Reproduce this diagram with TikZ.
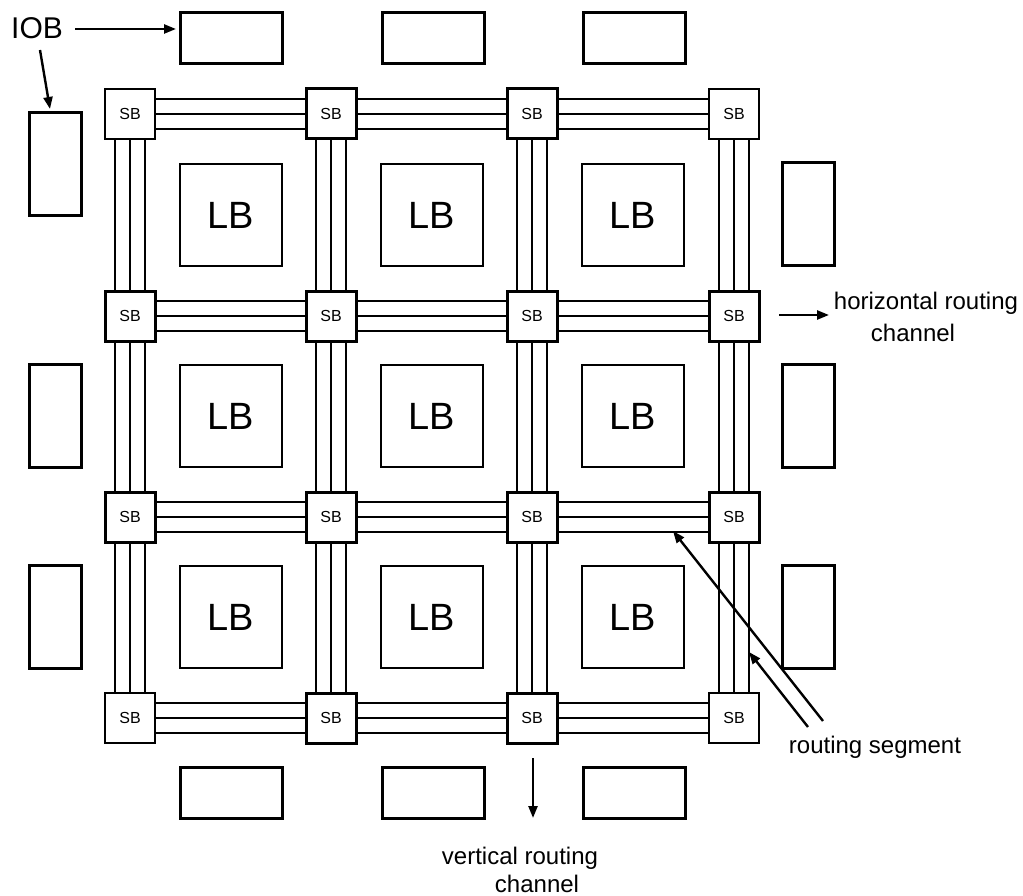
\documentclass[tikz,border=0pt]{standalone}
\usepackage{fontspec}
\setmainfont{Liberation Sans}
\usetikzlibrary{arrows.meta}
\begin{document}
\begin{tikzpicture}[x=1pt,y=-1pt,
  sb/.style={draw, line width=3pt, minimum size=50pt, inner sep=0pt, fill=white, font=\fontsize{16}{16}\selectfont},
  sbc/.style={sb, line width=1.8pt},
  lb/.style={draw, line width=2.6pt, minimum size=102pt, inner sep=0pt, font=\fontsize{38}{38}\selectfont},
  iobh/.style={draw, line width=3pt, minimum width=102pt, minimum height=51pt, inner sep=0pt},
  iobv/.style={draw, line width=3pt, minimum width=52pt, minimum height=103pt, inner sep=0pt},
  track/.style={line width=1.5pt},
  arr/.style={line width=2.4pt, -{Triangle[length=12pt,width=9pt]}},
  lbl/.style={font=\fontsize{24}{29}\selectfont, align=center, inner sep=0pt}]
\useasboundingbox (0,0) rectangle (1023,896);

% switch boxes
\foreach \i/\x in {1/130,2/331,3/532,4/734}{
  \foreach \j/\y in {1/114,2/316,3/517,4/718}{
    \pgfmathtruncatemacro\c{and(or(\i==1,\i==4),or(\j==1,\j==4))}
    \ifnum\c=1
      \node[sbc] (sb-\i-\j) at (\x,\y) {SB};
    \else
      \node[sb] (sb-\i-\j) at (\x,\y) {SB};
    \fi
  }
}

% routing tracks
\foreach \j in {1,2,3,4}{
  \foreach \i/\k in {1/2,2/3,3/4}{
    \foreach \o in {-15,0,15}{
      \draw[track] ([yshift=\o pt]sb-\i-\j.east) -- ([yshift=\o pt]sb-\k-\j.west);
      \draw[track] ([xshift=\o pt]sb-\j-\i.south) -- ([xshift=\o pt]sb-\j-\k.north);
    }
  }
}

% logic blocks
\foreach \i/\x in {1/231,2/432,3/633}{
  \foreach \j/\y in {1/215,2/416,3/617}{
    \node[lb] (lb-\i-\j) at (\x,\y) {LB};
  }
}

% IO blocks
\foreach \i/\x in {1/231,2/433,3/634}{
  \node[iobh] (iobt-\i) at (\x,38.5) {};
  \node[iobh] (iobb-\i) at (\x,792.5) {};
}
\node[iobv] (iobl-1) at (55,164.5) {};
\node[iobv] (iobl-2) at (55,415.5) {};
\node[iobv] (iobl-3) at (55,617) {};
\node[iobv] (iobr-1) at (808.5,214.5) {};
\node[iobv] (iobr-2) at (808.5,415.5) {};
\node[iobv] (iobr-3) at (808.5,616.5) {};

% labels
\node[font=\fontsize{30}{30}\selectfont, anchor=base, inner sep=0pt] (iob) at (37,39) {IOB};
\coordinate (iobA) at (75,29);
\coordinate (iobAend) at (176,29);
\coordinate (iobB) at (40,50);
\coordinate (iobBend) at (50,109);
\draw[arr] (iobA) -- (iobAend);
\draw[arr] (iobB) -- (iobBend);

\coordinate (hA) at (779,315);
\coordinate (hB) at (829,315);
\draw[arr] (hA) -- (hB);
\node[lbl, anchor=base] (hl1) at (926,309) {horizontal routing};
\node[lbl, anchor=base] (hl2) at (913,341) {channel};

\coordinate (vA) at (533,758);
\coordinate (vB) at (533,818);
\draw[arr] (vA) -- (vB);
\node[lbl, anchor=base] (vl1) at (520,864) {vertical routing};
\node[lbl, anchor=base] (vl2) at (537,892) {channel};

\node[lbl, anchor=base] (rs) at (875,753) {routing segment};
\coordinate (rsA) at (823,721);
\coordinate (rsB) at (673,531);
\coordinate (rsC) at (808,727);
\coordinate (rsD) at (749,652);
\draw[arr] (rsA) -- (rsB);
\draw[arr] (rsC) -- (rsD);
\end{tikzpicture}
\end{document}
